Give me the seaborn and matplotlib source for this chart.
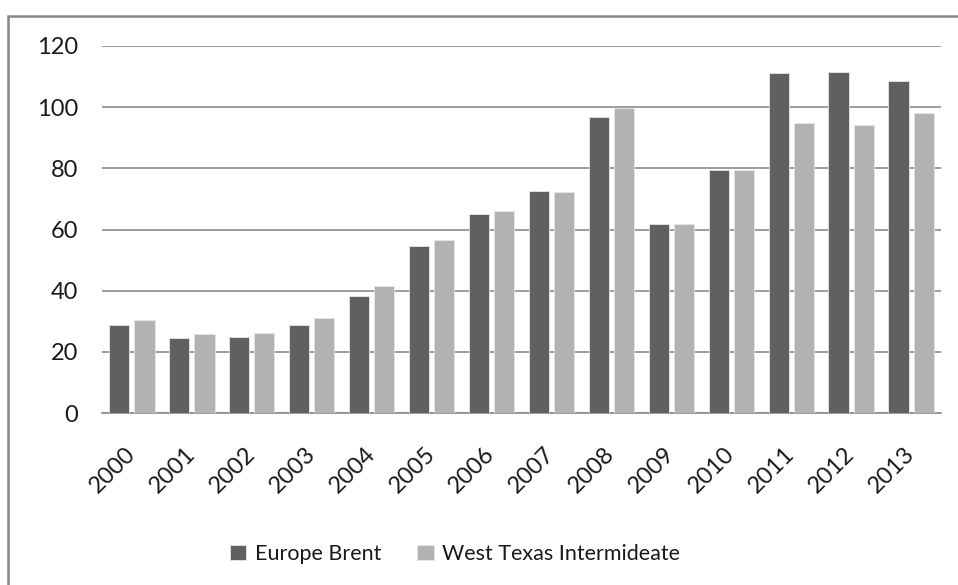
import matplotlib
matplotlib.use("Agg")
import matplotlib.pyplot as plt
from matplotlib.patches import Rectangle
import seaborn as sns
import pandas as pd

years = ["2000", "2001", "2002", "2003", "2004", "2005", "2006",
         "2007", "2008", "2009", "2010", "2011", "2012", "2013"]
europe_brent = [28.66, 24.46, 24.99, 28.85, 38.26, 54.57, 65.16,
                72.44, 96.94, 61.74, 79.61, 111.26, 111.63, 108.56]
west_texas = [30.38, 25.98, 26.18, 31.08, 41.51, 56.64, 66.05,
              72.34, 99.67, 61.95, 79.48, 94.88, 94.05, 97.98]
series_names = ["Europe Brent", "West Texas Intermideate"]
y_ticks = [0, 20, 40, 60, 80, 100, 120]

df = pd.DataFrame({
    "Year": years * 2,
    "Price": europe_brent + west_texas,
    "Series": [series_names[0]] * len(years) + [series_names[1]] * len(years),
})

sns.set_theme(style="white")
plt.rcParams["font.family"] = ["Lato", "DejaVu Sans"]

fig = plt.figure(figsize=(9.58, 5.85), dpi=100)
ax = fig.add_axes([102 / 958, 1 - 413 / 585, (941 - 102) / 958, (413 - 46) / 585])

palette = {series_names[0]: "#606060", series_names[1]: "#b2b2b2"}
sns.barplot(data=df, x="Year", y="Price", hue="Series", order=years,
            hue_order=series_names, palette=palette, width=0.84, gap=0.2,
            saturation=1, edgecolor="#e6e6e6", linewidth=0.6, ax=ax, zorder=3)

ax.set_ylim(0, 120)
ax.set_yticks(y_ticks)
ax.set_xlim(-0.5, len(years) - 0.5)
ax.yaxis.grid(True, color="#8c8c8c", linewidth=1.2, zorder=0)
ax.set_axisbelow(True)
for side in ["top", "right", "left"]:
    ax.spines[side].set_visible(False)
ax.spines["bottom"].set_color("#8c8c8c")
ax.spines["bottom"].set_linewidth(1.2)
ax.set_xlabel("")
ax.set_ylabel("")
ax.tick_params(axis="y", length=0, pad=17, labelsize=17, labelcolor="#1a1a1a")
ax.tick_params(axis="x", length=0, pad=27, labelsize=17, labelcolor="#1a1a1a")
plt.setp(ax.get_xticklabels(), rotation=45, ha="right", va="center",
         rotation_mode="anchor")

handles, labels = ax.get_legend_handles_labels()
ax.legend(handles, labels, loc="center", bbox_to_anchor=(455 / 958, 1 - 554 / 585),
          bbox_transform=fig.transFigure, ncol=2, frameon=False,
          fontsize=15.5, handlelength=0.75, handleheight=0.75,
          handletextpad=0.4, columnspacing=1.7, labelcolor="#1a1a1a")

# Chart-area frame (open on the right and bottom)
fig.patches.append(Rectangle((8 / 958, -0.2), 1.2, 1.2 - 16 / 585 + 0.0,
                             transform=fig.transFigure, fill=False,
                             edgecolor="#878787", linewidth=1.8, zorder=0))

fig.savefig("out.png", dpi=100)
